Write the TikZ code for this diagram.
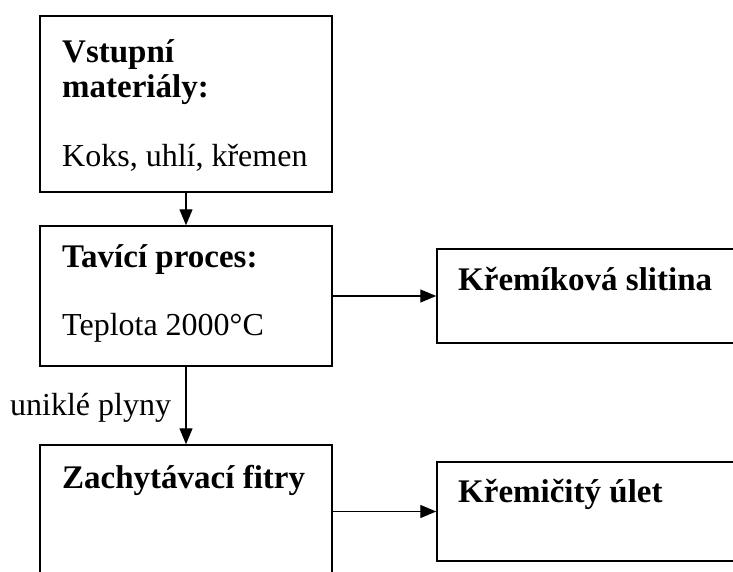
\documentclass[tikz,border=0pt]{standalone}
\usepackage{fontspec}
\setmainfont{Liberation Serif}
\usetikzlibrary{arrows.meta}
\begin{document}
\begin{tikzpicture}[x=1pt,y=-1pt,
  box/.style={draw=black,line width=1.5pt,rectangle,inner sep=0pt},
  txt/.style={inner sep=0pt,anchor=base west,font=\fontsize{32}{36}\selectfont},
  btxt/.style={txt,font=\fontsize{33}{37}\selectfont\bfseries},
  conn/.style={line width=1.4pt,-{Triangle[length=16pt,width=13pt]}}]
\useasboundingbox (0,0) rectangle (733,572);
\clip (0,0) rectangle (733,572);
% boxes
\node[box,minimum width=292pt,minimum height=176pt] (b1) at (186,104) {};
\node[box,minimum width=292pt,minimum height=140pt] (b2) at (186,296) {};
\node[box,minimum width=323pt,minimum height=94pt] (b3) at (598.5,296) {};
\node[box,minimum width=292pt,minimum height=160pt] (b4) at (186,525) {};
\node[box,minimum width=323pt,minimum height=99pt] (b5) at (598.5,511.5) {};
% texts
\node[btxt] (t1a) at (62,63) {Vstupní};
\node[btxt] (t1b) at (62,98) {materiály:};
\node[txt] (t1c) at (62,167) {Koks, uhlí, křemen};
\node[btxt] (t2a) at (62,267) {Tavící proces:};
\node[txt] (t2b) at (62,335) {Teplota 2000°C};
\node[btxt] (t3) at (458,290) {Křemíková slitina};
\node[btxt] (t4) at (62,488) {Zachytávací fitry};
\node[btxt] (t5) at (458,502) {Křemičitý úlet};
\node[txt] (lab) at (10,415) {uniklé plyny};
% connectors
\draw[conn] (b1.south) -- (b2.north);
\draw[conn] (b2.south) -- (b4.north);
\draw[conn] (b2.east) -- (b3.west);
\draw[conn] (b4.east |- b5.west) -- (b5.west);
\end{tikzpicture}
\end{document}
